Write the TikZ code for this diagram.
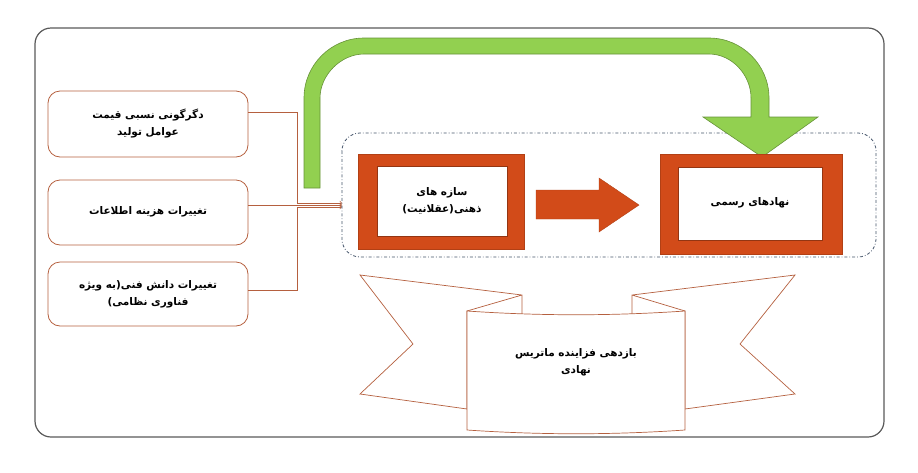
\documentclass[tikz,border=0pt]{standalone}
\usepackage{fontspec}
\newfontfamily\arabicfont[Script=Arabic]{DejaVu Sans}
\TeXXeTstate=1
\definecolor{brd}{HTML}{B5603F}
\definecolor{org}{HTML}{D24B19}
\definecolor{grn}{HTML}{92D050}
\definecolor{dshcol}{HTML}{44546A}
\begin{document}
\begin{tikzpicture}[x=1pt,y=-1pt,
  txt/.style={font=\arabicfont\fontsize{10.5}{17}\selectfont\bfseries, align=center},
  lbox/.style={draw=brd, line width=0.8pt, rounded corners=12pt},
  conn/.style={draw=brd, line width=0.7pt}]
\useasboundingbox (0,0) rectangle (918,472);
\draw[gray!70!black, line width=1.2pt, rounded corners=16pt] (35,28) rectangle (884,437);
% left boxes
\draw[lbox] (48,91) rectangle (248,157);
\draw[lbox] (48,180) rectangle (248,245);
\draw[lbox] (48,262) rectangle (248,326);
\node[txt] (a) at (148,124) {\beginR دگرگونی نسبی قیمت\endR\\\beginR عوامل تولید\endR};
\node[txt] (b) at (148,212) {\beginR تغییرات هزینه اطلاعات\endR};
\node[txt] (c) at (148,294) {\beginR تغییرات دانش فنی(به ویژه\endR\\\beginR فناوری نظامی)\endR};
\coordinate (ta) at (342,203);
\coordinate (tb) at (342,205);
\coordinate (tc) at (342,207);
\draw[conn,->] (248,112) -- (297,112) -- (297,203) -- (ta);
\draw[conn,->] (248,205) -- (tb);
\draw[conn,->] (248,290) -- (297,290) -- (297,207) -- (tc);
% dashed container
\draw[dshcol, line width=0.8pt, dash dot, rounded corners=18pt] (342,133) rectangle (876,257);
% green arrow
\draw[grn!70!black, fill=grn, line width=0.6pt]
  (304,188) -- (304,98) .. controls (304,65) and (331,38) .. (364,38)
  -- (709,38) .. controls (742,38) and (769,65) .. (769,98)
  -- (769,117) -- (818,117) -- (762,157) -- (703,117) -- (751,117) -- (751,98)
  .. controls (751,75) and (732,54) .. (709,54)
  -- (364,54) .. controls (341,54) and (320,75) .. (320,98) -- (320,188) -- cycle;
% orange boxes
\draw[org!85!black, fill=org] (358,154) rectangle (524,249);
\fill[white] (377,166) rectangle (507,236);
\draw[org!70!black,line width=0.4pt] (377,166) rectangle (507,236);
\node[txt] (s) at (442,201) {\beginR سازه های\endR\\\beginR ذهنی(عقلانیت)\endR};
\draw[org!85!black, fill=org] (660,154) rectangle (842,254);
\fill[white] (678,167) rectangle (822,240);
\draw[org!70!black,line width=0.4pt] (678,167) rectangle (822,240);
\node[txt] (n) at (750,203) {\beginR نهادهای رسمی\endR};
% middle arrow
\draw[org!85!black, fill=org] (536,190) -- (599,190) -- (599,178) -- (639,205) -- (599,232) -- (599,219) -- (536,219) -- cycle;
% ribbon
\tikzset{rib/.style={draw=brd, fill=white, line width=0.7pt, line join=miter}}
\draw[rib] (522,295) -- (360,275) -- (413,344) -- (360,394) -- (467,409) -- (467,311) -- (522,295) -- (522,314);
\draw[rib] (632,295) -- (795,275) -- (740,344) -- (795,394) -- (685,409) -- (685,311) -- (632,295) -- (632,314);
\draw[rib] (467,311) .. controls (540,316) and (612,316) .. (685,311) -- (685,430) .. controls (612,435) and (540,435) .. (467,430) -- cycle;
\node[txt] (r) at (576,362) {\beginR بازدهی فزاینده ماتریس\endR\\\beginR نهادی\endR};
\end{tikzpicture}
\end{document}
